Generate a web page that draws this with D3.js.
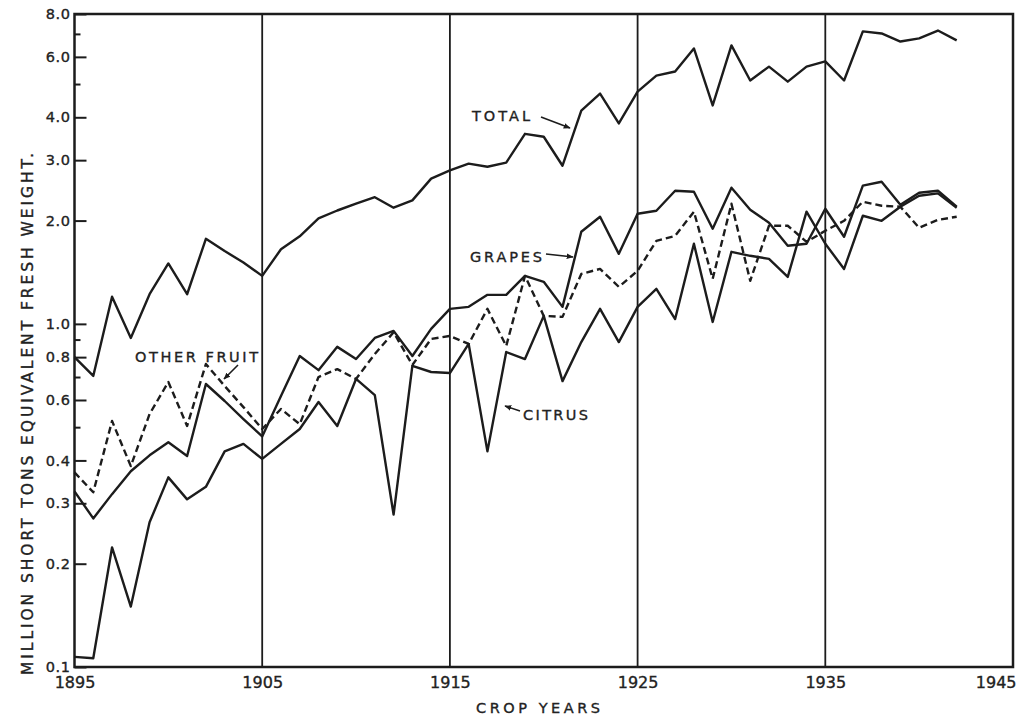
<!DOCTYPE html>
<html>
<head>
<meta charset="utf-8">
<script src="https://cdn.jsdelivr.net/npm/d3@7"></script>
<style>
  html, body { margin: 0; padding: 0; background: #fff; }
  svg { display: block; }
  text {
    font-family: "DejaVu Sans", "Liberation Sans", sans-serif;
    fill: #222; stroke: #222; stroke-width: 0.35px;
  }
</style>
</head>
<body>
<svg id="chart" width="1021" height="718"></svg>
<script>
// Crop years 1895–1942, million short tons (fresh-weight equivalent)
const years = d3.range(1895, 1943);

const total = [
  0.80, 0.705, 1.20, 0.91, 1.22, 1.50, 1.22, 1.77, 1.63, 1.51,
  1.38, 1.65, 1.80, 2.03, 2.14, 2.24, 2.34, 2.18, 2.29, 2.65,
  2.80, 2.93, 2.87, 2.95, 3.58, 3.51, 2.89, 4.18, 4.69, 3.84,
  4.75, 5.29, 5.44, 6.35, 4.33, 6.48, 5.12, 5.62, 5.08, 5.62,
  5.82, 5.12, 7.12, 7.02, 6.65, 6.79, 7.16, 6.70
];

const grapes = [
  0.325, 0.271, 0.319, 0.372, 0.414, 0.452, 0.412, 0.668, 0.596, 0.528,
  0.470, 0.616, 0.806, 0.733, 0.857, 0.790, 0.910, 0.954, 0.806, 0.967,
  1.106, 1.121, 1.215, 1.215, 1.380, 1.326, 1.121, 1.855, 2.052, 1.600,
  2.094, 2.137, 2.444, 2.428, 1.893, 2.494, 2.151, 1.971, 1.689, 1.712,
  2.165, 1.794, 2.528, 2.596, 2.225, 2.411, 2.444, 2.195
];

const otherFruit = [
  0.369, 0.323, 0.521, 0.385, 0.546, 0.677, 0.504, 0.764, 0.659, 0.572,
  0.494, 0.565, 0.510, 0.700, 0.738, 0.691, 0.817, 0.945, 0.759, 0.904,
  0.922, 0.874, 1.106, 0.862, 1.380, 1.055, 1.048, 1.398, 1.446, 1.282,
  1.427, 1.746, 1.805, 2.123, 1.353, 2.239, 1.335, 1.932, 1.932, 1.734,
  1.868, 1.997, 2.270, 2.209, 2.195, 1.905, 2.010, 2.052
];

const citrus = [
  0.107, 0.106, 0.223, 0.150, 0.264, 0.357, 0.308, 0.335, 0.425, 0.447,
  0.404, 0.447, 0.494, 0.592, 0.504, 0.691, 0.620, 0.278, 0.754, 0.724,
  0.719, 0.874, 0.425, 0.828, 0.790, 1.055, 0.681, 0.885, 1.106, 0.885,
  1.121, 1.265, 1.033, 1.712, 1.013, 1.622, 1.579, 1.547, 1.371, 2.123,
  1.712, 1.446, 2.066, 1.997, 2.195, 2.363, 2.400, 2.180
];

const yTicks = [8, 6, 4, 3, 2, 1, 0.8, 0.6, 0.4, 0.3, 0.2, 0.1];
const yMinorTicks = [7, 5, 0.9, 0.7, 0.5];
const xTicks = [1895, 1905, 1915, 1925, 1935, 1945];
const gridYears = [1905, 1915, 1925, 1935];

const series = [
  { name: "TOTAL", values: total, dash: null },
  { name: "GRAPES", values: grapes, dash: null },
  { name: "OTHER FRUIT", values: otherFruit, dash: "7,4" },
  { name: "CITRUS", values: citrus, dash: null }
];

// Plot frame
const plotLeft = 74.5, plotRight = 1013, plotTop = 14, plotBottom = 667;
const ink = "#1c1c1c";

const svg = d3.select("#chart");

const x = d3.scaleLinear().domain([1895, 1945]).range([plotLeft, plotRight]);
const y = d3.scaleLog().domain([0.1, 8]).range([plotBottom, plotTop]);

// Decade rules
svg.append("g")
  .selectAll("line")
  .data(gridYears)
  .join("line")
  .attr("x1", d => x(d)).attr("x2", d => x(d))
  .attr("y1", plotTop).attr("y2", plotBottom)
  .attr("stroke", ink).attr("stroke-width", 1.8);

// Frame
svg.append("rect")
  .attr("x", plotLeft).attr("y", plotTop)
  .attr("width", plotRight - plotLeft).attr("height", plotBottom - plotTop)
  .attr("fill", "none").attr("stroke", ink).attr("stroke-width", 2.5);

// Y axis (log), ticks pointing into the plot
const yAxis = svg.append("g")
  .attr("transform", `translate(${plotLeft},0)`)
  .call(d3.axisLeft(y).tickValues(yTicks).tickSize(-12).tickPadding(4)
    .tickFormat(d3.format(".1f")));
yAxis.select(".domain").remove();
yAxis.selectAll(".tick line").attr("stroke", ink).attr("stroke-width", 2);
yAxis.selectAll(".tick text")
  .attr("fill", ink)
  .style("font-size", "14.5px")
  .style("letter-spacing", "0.6px");

const yMinor = svg.append("g")
  .attr("transform", `translate(${plotLeft},0)`)
  .call(d3.axisLeft(y).tickValues(yMinorTicks).tickSize(-6).tickFormat(""));
yMinor.select(".domain").remove();
yMinor.selectAll(".tick line").attr("stroke", ink).attr("stroke-width", 2);

// X axis labels
const xAxis = svg.append("g")
  .attr("transform", `translate(0,${plotBottom})`)
  .call(d3.axisBottom(x).tickValues(xTicks).tickSize(0).tickPadding(10)
    .tickFormat(d3.format("d")));
xAxis.select(".domain").remove();
xAxis.selectAll(".tick text")
  .attr("fill", ink)
  .style("font-size", "16px");
xAxis.selectAll(".tick text")
  .filter(d => d === 1945)
  .attr("text-anchor", "end")
  .attr("x", 3);

// Series lines
const line = d3.line()
  .x((d, i) => x(years[i]))
  .y(d => y(d));

svg.append("g")
  .selectAll("path")
  .data(series)
  .join("path")
  .attr("d", d => line(d.values))
  .attr("fill", "none")
  .attr("stroke", ink)
  .attr("stroke-width", 2.4)
  .attr("stroke-linejoin", "round")
  .attr("stroke-dasharray", d => d.dash);

// Arrowhead for callouts
svg.append("defs").append("marker")
  .attr("id", "arrow")
  .attr("viewBox", "0 0 10 10")
  .attr("refX", 9).attr("refY", 5)
  .attr("markerWidth", 7).attr("markerHeight", 7)
  .attr("markerUnits", "userSpaceOnUse")
  .attr("orient", "auto")
  .append("path")
  .attr("d", "M0,1 L10,5 L0,9 Z")
  .attr("fill", ink);

// Series callouts: label text and leader arrow
const callouts = [
  { text: "TOTAL", tx: 472, ty: 121, len: 58, from: [541, 117], to: [570, 128] },
  { text: "GRAPES", tx: 470, ty: 262, len: 72, from: [546, 254], to: [573, 257] },
  { text: "CITRUS", tx: 523, ty: 420, len: 65, from: [520, 411], to: [505, 406] },
  { text: "OTHER FRUIT", tx: 135, ty: 362, len: 123, from: [238, 365], to: [224, 379] }
];

const cg = svg.append("g");
cg.selectAll("text")
  .data(callouts)
  .join("text")
  .attr("x", d => d.tx).attr("y", d => d.ty)
  .attr("textLength", d => d.len)
  .attr("lengthAdjust", "spacing")
  .style("font-size", "14.5px")
  .text(d => d.text);
cg.selectAll("line")
  .data(callouts)
  .join("line")
  .attr("x1", d => d.from[0]).attr("y1", d => d.from[1])
  .attr("x2", d => d.to[0]).attr("y2", d => d.to[1])
  .attr("stroke", ink).attr("stroke-width", 1.6)
  .attr("marker-end", "url(#arrow)");

// Axis titles
svg.append("text")
  .attr("transform", "translate(27,414) rotate(-90)")
  .attr("text-anchor", "middle")
  .attr("dy", "0.36em")
  .attr("textLength", 522)
  .attr("lengthAdjust", "spacing")
  .style("font-size", "15.5px")
  .text("MILLION SHORT TONS EQUIVALENT FRESH WEIGHT.");

svg.append("text")
  .attr("x", 476).attr("y", 713)
  .attr("textLength", 124)
  .attr("lengthAdjust", "spacing")
  .style("font-size", "14.5px")
  .text("CROP YEARS");
</script>
</body>
</html>
